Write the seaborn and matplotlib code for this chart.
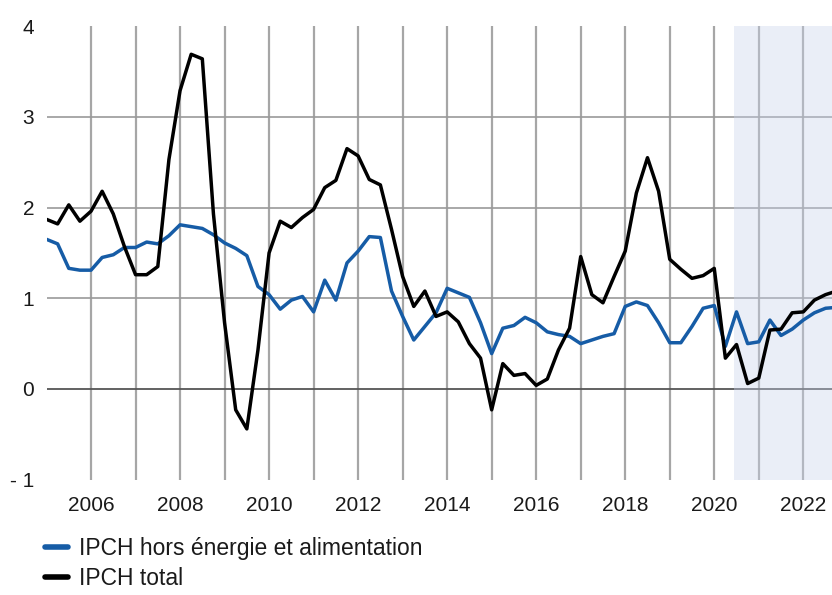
import numpy as np
import pandas as pd
import seaborn as sns
import matplotlib.pyplot as plt

# quarterly data, 2005Q1 - 2022Q4 (last point is clipped by the axis)
quarters = pd.period_range('2005Q1', periods=72, freq='Q')

hicpx = [
    1.65, 1.60, 1.33, 1.31,
    1.31, 1.45, 1.48, 1.56,
    1.56, 1.62, 1.60, 1.69,
    1.81, 1.79, 1.77, 1.70,
    1.61, 1.55, 1.47, 1.13,
    1.04, 0.88, 0.98, 1.02,
    0.85, 1.20, 0.98, 1.39,
    1.52, 1.68, 1.67, 1.08,
    0.80, 0.54, 0.69, 0.84,
    1.11, 1.06, 1.01, 0.73,
    0.39, 0.67, 0.70, 0.79,
    0.73, 0.63, 0.60, 0.58,
    0.50, 0.54, 0.58, 0.61,
    0.91, 0.96, 0.92, 0.73,
    0.51, 0.51, 0.69, 0.89,
    0.92, 0.47, 0.85, 0.50,
    0.52, 0.76, 0.59, 0.66,
    0.76, 0.84, 0.89, 0.90,
]

hicp = [
    1.87, 1.82, 2.03, 1.85,
    1.96, 2.18, 1.93, 1.57,
    1.26, 1.26, 1.35, 2.53,
    3.29, 3.69, 3.64, 1.93,
    0.73, -0.23, -0.44, 0.43,
    1.50, 1.85, 1.78, 1.89,
    1.98, 2.22, 2.30, 2.65,
    2.57, 2.31, 2.25, 1.76,
    1.24, 0.91, 1.08, 0.80,
    0.85, 0.74, 0.50, 0.34,
    -0.23, 0.28, 0.15, 0.17,
    0.04, 0.11, 0.43, 0.67,
    1.46, 1.04, 0.95, 1.24,
    1.52, 2.16, 2.55, 2.18,
    1.43, 1.32, 1.22, 1.25,
    1.33, 0.34, 0.49, 0.06,
    0.12, 0.65, 0.66, 0.84,
    0.85, 0.98, 1.04, 1.08,
]

series_names = ['IPCH hors énergie et alimentation', 'IPCH total']
year_ticks = list(range(2006, 2023, 2))
y_ticks = [-1, 0, 1, 2, 3, 4]
y_ticklabels = ['- 1', '0', '1', '2', '3', '4']

t = quarters.year + (quarters.quarter - 1) / 4
df = pd.DataFrame({
    't': np.tile(t, 2),
    'val': hicpx + hicp,
    'serie': np.repeat(series_names, len(quarters)),
})

sns.set_style('white')
plt.rcParams['font.family'] = ['Liberation Sans', 'DejaVu Sans']

fig = plt.figure(figsize=(8.32, 5.95), dpi=100)
ax = fig.add_axes([0.0559, 0.1938, 0.9441, 0.7622])

# grid
for yr in range(2006, 2023):
    ax.axvline(yr, color='#a6a6a6', lw=1.6, zorder=1)
for v in [1, 2, 3]:
    ax.axhline(v, color='#999999', lw=1.2, zorder=1)
ax.axhline(0, color='#555555', lw=1.3, zorder=1)

# projection area
ax.axvspan(2020.45, 2023, color='#c9d3ec', alpha=0.38, lw=0, zorder=2)

sns.lineplot(data=df, x='t', y='val', hue='serie',
             palette=['#165ca6', '#000000'], linewidth=2.5, ax=ax, zorder=3)

ax.set_xlim(2005, 2022.645)
ax.set_ylim(-1, 4)
ax.set_xticks(year_ticks)
ax.set_yticks(y_ticks, y_ticklabels)
ax.tick_params(length=0, labelsize=15, colors='#1a1a1a')
ax.tick_params(axis='y', pad=9)
ax.tick_params(axis='x', pad=12)
for s in ax.spines.values():
    s.set_visible(False)
ax.set_xlabel('')
ax.set_ylabel('')

handles, labs = ax.get_legend_handles_labels()
ax.get_legend().remove()
leg = fig.legend(handles, labs, loc='upper left', bbox_to_anchor=(0.054, 0.098),
                 frameon=False, fontsize=16.5, handlelength=1.0, handletextpad=0.5,
                 labelspacing=0.3, borderpad=0, borderaxespad=0)
for h in leg.get_lines():
    h.set_linewidth(4)
for txt in leg.get_texts():
    txt.set_color('#1a1a1a')

fig.savefig('out.png', dpi=100)
